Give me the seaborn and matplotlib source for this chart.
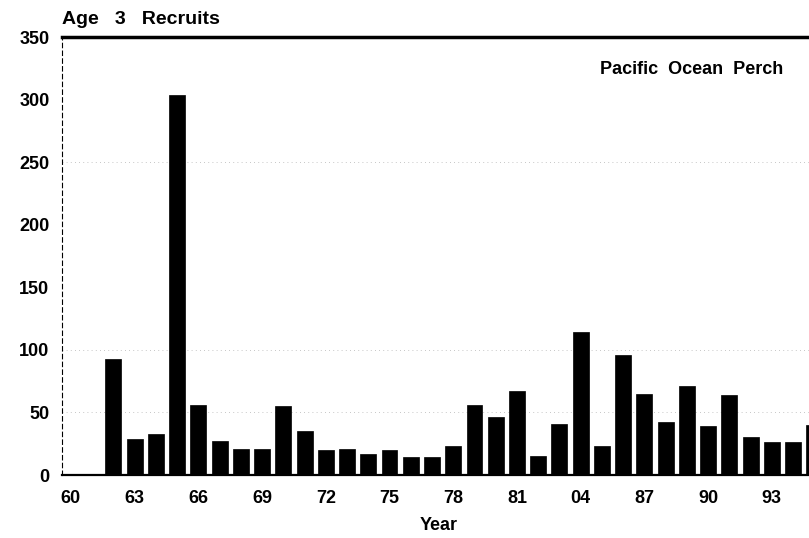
import numpy as np
import pandas as pd
import matplotlib
matplotlib.use("Agg")
import matplotlib.pyplot as plt
import seaborn as sns

# Age 3 recruits (millions)
years = list(range(1960, 1996))
recruits = [1, 1, 93, 29, 33, 304, 56, 27, 21, 21, 55, 35, 20, 21, 17, 20,
            14, 14, 23, 56, 46, 67, 15, 41, 114, 23, 96, 65, 42, 71, 39, 64,
            30, 26, 26, 40]
tick_years = list(range(1960, 1994, 3))
tick_labels = ["60", "63", "66", "69", "72", "75", "78", "81", "04", "87", "90", "93"]
y_ticks = [0, 50, 100, 150, 200, 250, 300, 350]

df = pd.DataFrame({"year": years, "recruits": recruits})

sns.set_style("white")
plt.rcParams["font.family"] = ["Liberation Sans", "DejaVu Sans"]
plt.rcParams["font.weight"] = "bold"
plt.rcParams["text.color"] = "black"
plt.rcParams["axes.labelcolor"] = "black"
plt.rcParams["xtick.color"] = "black"
plt.rcParams["ytick.color"] = "black"

fig = plt.figure(figsize=(8.09, 5.38), dpi=100)
ax = fig.add_axes([62 / 809, 63 / 538, 747 / 809, 438 / 538])

sns.barplot(data=df, x="year", y="recruits", native_scale=True, width=0.75,
            color="black", edgecolor="black", linewidth=0.5, ax=ax)

ax.set_xlim(1959.58, 1994.75)
ax.set_ylim(0, 350)

# faint dotted grid remnants from the scan
for g in [50, 100, 250]:
    ax.axhline(g, color="0.7", linestyle=(0, (1, 4)), linewidth=0.6, zorder=0)

ax.set_xticks(tick_years)
ax.set_xticklabels(tick_labels, fontsize=13, fontweight="bold")
ax.set_yticks(y_ticks)
ax.set_yticklabels([str(v) for v in y_ticks], fontsize=13, fontweight="bold")
ax.tick_params(axis="y", direction="in", length=7, width=1.2, pad=9)
ax.tick_params(axis="x", direction="out", length=4, width=0.8, pad=7)

ax.set_xlabel("Year", fontsize=13, fontweight="bold")
ax.xaxis.set_label_coords((439 - 62) / 747, -0.097)
ax.set_ylabel("")

for side in ["top", "bottom", "left", "right"]:
    ax.spines[side].set_color("black")
ax.spines["top"].set_linewidth(2.5)
ax.spines["bottom"].set_linewidth(1.6)
ax.spines["left"].set_linewidth(0.8)
ax.spines["left"].set_linestyle((0, (4, 3)))
ax.spines["right"].set_visible(False)

fig.text(62 / 809, 1 - 24 / 538, "Age   3   Recruits", fontsize=14,
         fontweight="bold", ha="left", va="baseline")
ax.text(0.965, 0.9155, "Pacific  Ocean  Perch", transform=ax.transAxes,
        fontsize=13, fontweight="bold", ha="right", va="baseline")

fig.savefig("out.png", dpi=100)
